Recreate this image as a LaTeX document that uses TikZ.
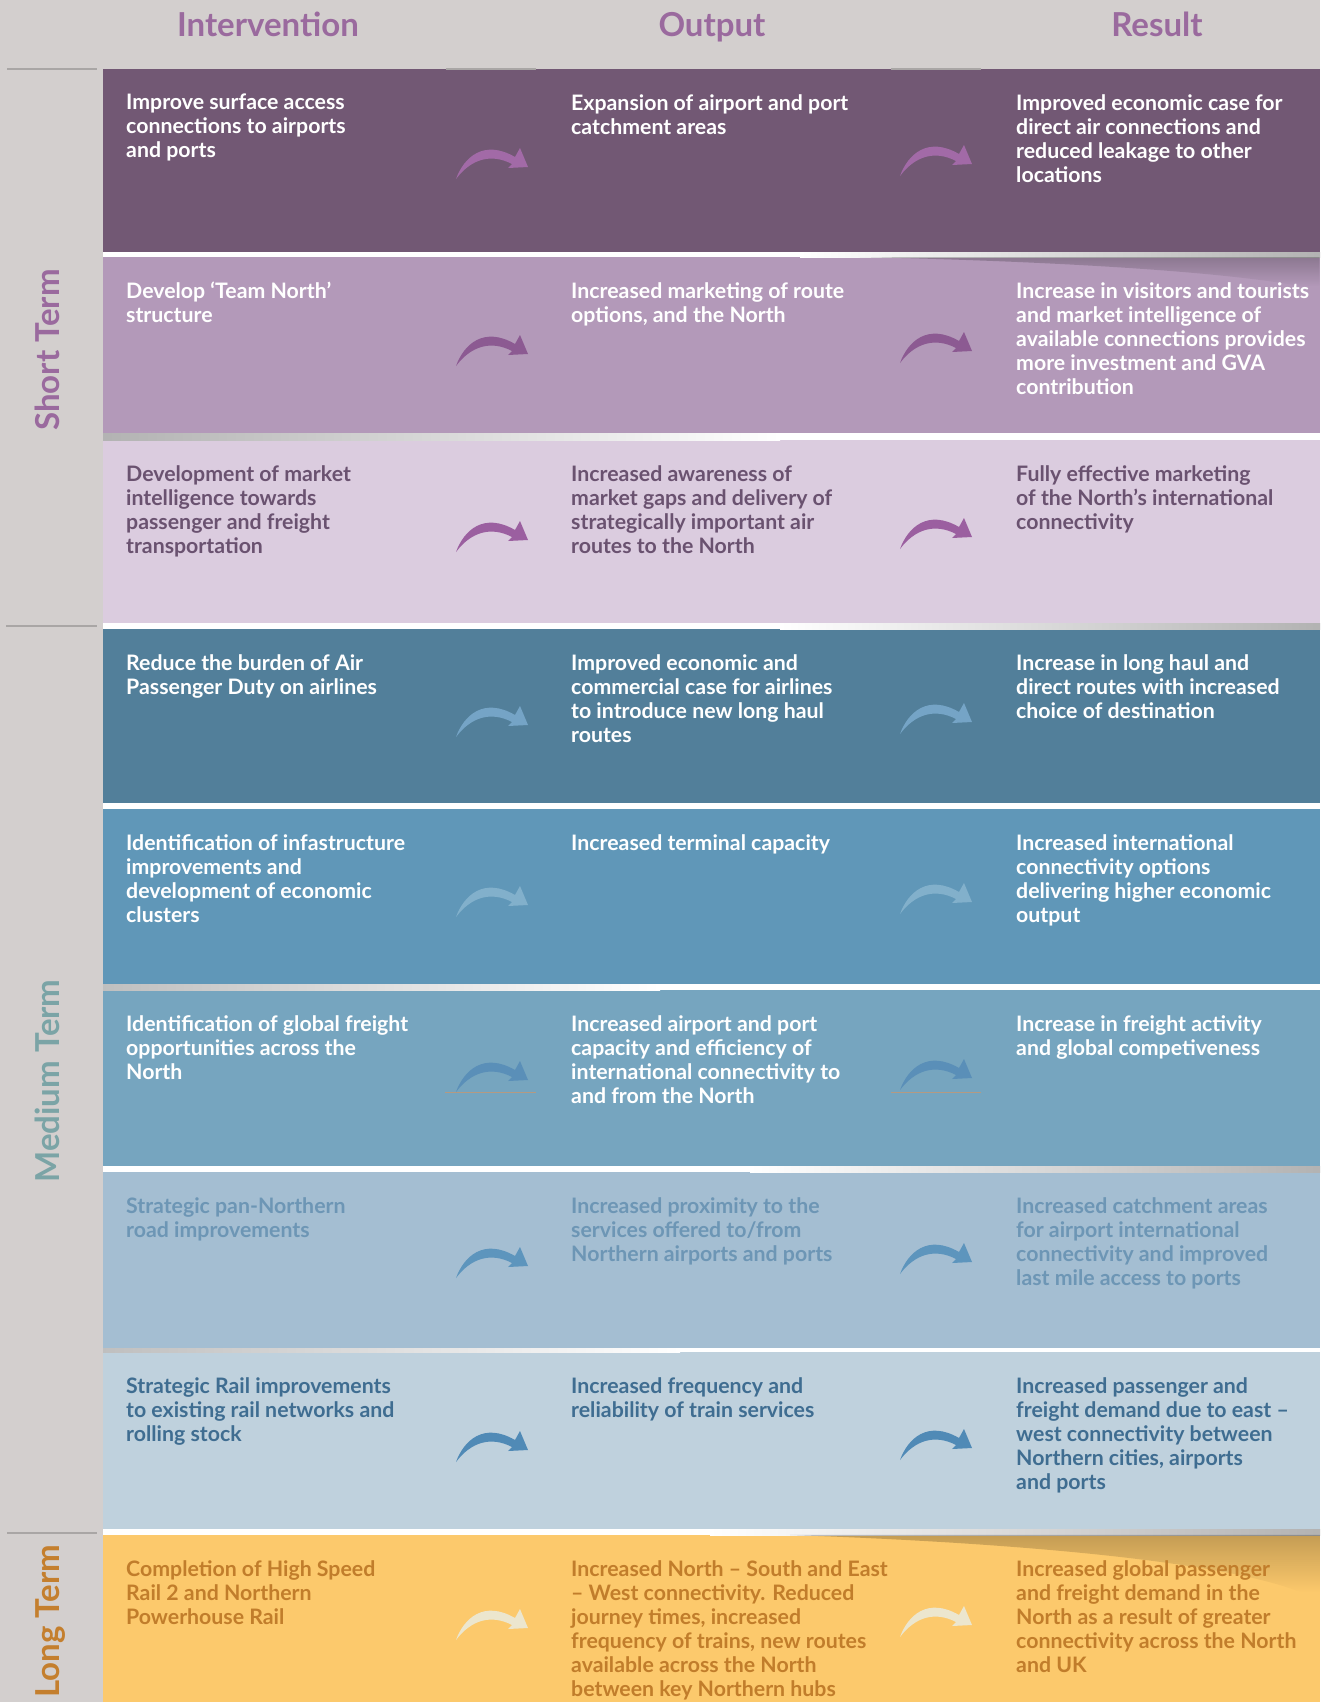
\documentclass[tikz,border=0pt]{standalone}
\usepackage{fontspec}
\setmainfont{Lato}
\usetikzlibrary{fadings}

\definecolor{bggray}{HTML}{D3CFCE}
\definecolor{tabgray}{HTML}{A9A6A5}
\definecolor{headpurple}{HTML}{9A6A9E}
\definecolor{termteal}{HTML}{7BA4A6}
\definecolor{termorange}{HTML}{C47F2E}
\definecolor{rowA}{HTML}{725874}
\definecolor{rowB}{HTML}{B399B9}
\definecolor{rowC}{HTML}{DBCCDF}
\definecolor{rowD}{HTML}{527F9A}
\definecolor{rowE}{HTML}{6097B8}
\definecolor{rowF}{HTML}{76A5BF}
\definecolor{rowG}{HTML}{A4BED2}
\definecolor{rowH}{HTML}{BFD1DD}
\definecolor{rowI}{HTML}{FCC96C}
\definecolor{textC}{HTML}{6A5270}
\definecolor{textG}{HTML}{6D96B5}
\definecolor{textH}{HTML}{3F6D91}
\definecolor{textI}{HTML}{C17D2B}
\definecolor{arrA}{HTML}{A26AA7}
\definecolor{arrB}{HTML}{8C5A92}
\definecolor{arrC}{HTML}{9B5FA0}
\definecolor{arrD}{HTML}{75A4C6}
\definecolor{arrE}{HTML}{82B0CB}
\definecolor{arrF}{HTML}{5A8FB8}
\definecolor{arrG}{HTML}{5D95BD}
\definecolor{arrH}{HTML}{508AB6}
\definecolor{arrI}{HTML}{ECE6CE}
\definecolor{linebrown}{HTML}{B49A82}

\tikzset{
  cell/.style={anchor=north west, align=left, inner sep=0pt,
    font=\bfseries\fontsize{21.3}{24}\selectfont},
  header/.style={anchor=base, inner sep=0pt, text=headpurple,
    font=\bfseries\fontsize{33}{38}\selectfont},
  term/.style={anchor=base, inner sep=0pt, rotate=90,
    font=\bfseries\fontsize{33}{38}\selectfont},
  tab/.style={draw=tabgray, line width=1.8pt},
  curl/.style={fill=black, opacity=0.22, path fading=south},
}

% tapering curved arrow, tail at #1
\newcommand{\flowarrow}[2]{%
  \fill[#2, shift={(#1)}] (0,0) .. controls (8,-22) and (28,-40) .. (59,-22)
    -- (64,-31) -- (72,-12) -- (52,-11) -- (56,-15)
    .. controls (35,-26) and (15,-20) .. (0,0);
}

\begin{document}
\begin{tikzpicture}[x=1pt,y=-1pt]
  \useasboundingbox (0,0) rectangle (1320,1702);
  \fill[bggray] (0,0) rectangle (1320,1702);
  \fill[white] (103,69) rectangle (1320,1702);

  % headers
  \node[header] (hi) at (268,37) {Intervention};
  \node[header] (ho) at (712,37) {Output};
  \node[header] (hr) at (1157,37) {Result};

  % rows
  \fill[rowA] (103,69) rectangle (1320,252);
  \fill[rowB] (103,257) rectangle (1320,433);
  \fill[rowC] (103,440) rectangle (1320,623);
  \fill[rowD] (103,629) rectangle (1320,803);
  \fill[rowE] (103,809) rectangle (1320,984);
  \fill[rowF] (103,990) rectangle (1320,1166);
  \fill[rowG] (103,1172) rectangle (1320,1348);
  \fill[rowH] (103,1352) rectangle (1320,1529);
  \fill[rowI] (103,1535) rectangle (1320,1702);

  % shadows in the gaps
  \shade[left color=white, right color=black!30] (800,252) rectangle (1320,257);
  \shade[left color=black!30, right color=white] (103,433) rectangle (780,440);
  \shade[left color=white, right color=black!30] (780,623) rectangle (1320,629);
  \shade[left color=black!25, right color=white] (103,984) rectangle (660,990);
  \shade[left color=white, right color=black!30] (750,1166) rectangle (1320,1172);
  \shade[left color=black!25, right color=white] (103,1348) rectangle (680,1352);
  \shade[left color=white, right color=black!30] (710,1529) rectangle (1320,1535);

  % curled shadows
  \fill[curl] (860,257) .. controls (1000,260) and (1200,268) .. (1300,286)
    -- (1320,286) -- (1320,257) -- cycle;
  \fill[curl] (790,1535) .. controls (1000,1542) and (1220,1560) .. (1300,1592)
    -- (1320,1592) -- (1320,1535) -- cycle;

  % tabs
  \draw[tab] (7,69) -- (97,69);
  \draw[tab] (6,626) -- (97,626);
  \draw[tab] (7,1533) -- (97,1533);
  \draw[tab] (446,69) -- (536,69);
  \draw[tab] (891,69) -- (981,69);
  \draw[linebrown, line width=1pt] (445,1092) -- (536,1092);
  \draw[linebrown, line width=1pt] (891,1092) -- (981,1092);

  % term labels
  \node[term, text=headpurple] (st) at (59,350) {Short Term};
  \node[term, text=termteal] (mt) at (59,1081) {Medium Term};
  \node[term, text=termorange] (lt) at (59,1621) {Long Term};

  % row 1
  \node[cell, text=white] (i1) at (126,94) {Improve surface access\\connections to airports\\and ports};
  \node[cell, text=white] (o1) at (571,94) {Expansion of airport and port\\catchment areas};
  \node[cell, text=white] (r1) at (1016,94) {Improved economic case for\\direct air connections and\\reduced leakage to other\\locations};
  \coordinate (a1) at (456,179);
  \coordinate (b1) at (900,176);
  \flowarrow{a1}{arrA}
  \flowarrow{b1}{arrA}

  % row 2
  \node[cell, text=white] (i2) at (126,282) {Develop ‘Team North’\\structure};
  \node[cell, text=white] (o2) at (571,282) {Increased marketing of route\\options, and the North};
  \node[cell, text=white] (r2) at (1016,282) {Increase in visitors and tourists\\and market intelligence of\\available connections provides\\more investment and GVA\\contribution};
  \coordinate (a2) at (456,366);
  \coordinate (b2) at (900,363);
  \flowarrow{a2}{arrB}
  \flowarrow{b2}{arrB}

  % row 3
  \node[cell, text=textC] (i3) at (126,465) {Development of market\\intelligence towards\\passenger and freight\\transportation};
  \node[cell, text=textC] (o3) at (571,465) {Increased awareness of\\market gaps and delivery of\\strategically important air\\routes to the North};
  \node[cell, text=textC] (r3) at (1016,465) {Fully effective marketing\\of the North’s international\\connectivity};
  \coordinate (a3) at (456,552);
  \coordinate (b3) at (900,549);
  \flowarrow{a3}{arrC}
  \flowarrow{b3}{arrC}

  % row 4
  \node[cell, text=white] (i4) at (126,654) {Reduce the burden of Air\\Passenger Duty on airlines};
  \node[cell, text=white] (o4) at (571,654) {Improved economic and\\commercial case for airlines\\to introduce new long haul\\routes};
  \node[cell, text=white] (r4) at (1016,654) {Increase in long haul and\\direct routes with increased\\choice of destination};
  \coordinate (a4) at (456,737);
  \coordinate (b4) at (900,734);
  \flowarrow{a4}{arrD}
  \flowarrow{b4}{arrD}

  % row 5
  \node[cell, text=white] (i5) at (126,834) {Identification of infastructure\\improvements and\\development of economic\\clusters};
  \node[cell, text=white] (o5) at (571,834) {Increased terminal capacity};
  \node[cell, text=white] (r5) at (1016,834) {Increased international\\connectivity options\\delivering higher economic\\output};
  \coordinate (a5) at (456,917);
  \coordinate (b5) at (900,914);
  \flowarrow{a5}{arrE}
  \flowarrow{b5}{arrE}

  % row 6
  \node[cell, text=white] (i6) at (126,1015) {Identification of global freight\\opportunities across the\\North};
  \node[cell, text=white] (o6) at (571,1015) {Increased airport and port\\capacity and efficiency of\\international connectivity to\\and from the North};
  \node[cell, text=white] (r6) at (1016,1015) {Increase in freight activity\\and global competiveness};
  \coordinate (a6) at (456,1092);
  \coordinate (b6) at (900,1090);
  \flowarrow{a6}{arrF}
  \flowarrow{b6}{arrF}

  % row 7
  \node[cell, text=textG] (i7) at (126,1197) {Strategic pan-Northern\\road improvements};
  \node[cell, text=textG] (o7) at (571,1197) {Increased proximity to the\\services offered to/from\\Northern airports and ports};
  \node[cell, text=textG] (r7) at (1016,1197) {Increased catchment areas\\for airport international\\connectivity and improved\\last mile access to ports};
  \coordinate (a7) at (456,1278);
  \coordinate (b7) at (900,1274);
  \flowarrow{a7}{arrG}
  \flowarrow{b7}{arrG}

  % row 8
  \node[cell, text=textH] (i8) at (126,1377) {Strategic Rail improvements\\to existing rail networks and\\rolling stock};
  \node[cell, text=textH] (o8) at (571,1377) {Increased frequency and\\reliability of train services};
  \node[cell, text=textH] (r8) at (1016,1377) {Increased passenger and\\freight demand due to east –\\west connectivity between\\Northern cities, airports\\and ports};
  \coordinate (a8) at (456,1462);
  \coordinate (b8) at (900,1460);
  \flowarrow{a8}{arrH}
  \flowarrow{b8}{arrH}

  % row 9
  \node[cell, text=textI] (i9) at (126,1560) {Completion of High Speed\\Rail 2 and Northern\\Powerhouse Rail};
  \node[cell, text=textI] (o9) at (571,1560) {Increased North – South and East\\– West connectivity. Reduced\\journey times, increased\\frequency of trains, new routes\\available across the North\\between key Northern hubs};
  \node[cell, text=textI] (r9) at (1016,1560) {Increased global passenger\\and freight demand in the\\North as a result of greater\\connectivity across the North\\and UK};
  \coordinate (a9) at (456,1640);
  \coordinate (b9) at (900,1637);
  \flowarrow{a9}{arrI}
  \flowarrow{b9}{arrI}
\end{tikzpicture}
\end{document}
